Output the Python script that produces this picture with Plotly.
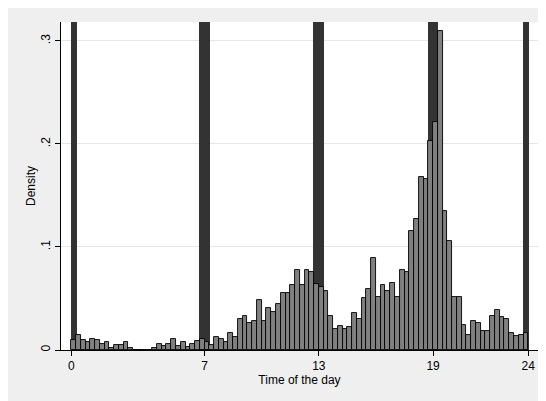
import numpy as np
import plotly.graph_objects as go

# ---- data ----
bin_width = 0.25
bin_start = 0.0
density = [
    0.0094, 0.0148, 0.0095, 0.0077, 0.0110, 0.0095, 0.0058, 0.0076,
    0.0018, 0.0053, 0.0053, 0.0076, 0.0020, 0.0, 0.0, 0.0,
    0.0, 0.0018, 0.0056, 0.0039, 0.0056, 0.0110, 0.0039, 0.0076,
    0.0030, 0.0057, 0.0092, 0.0110, 0.0073, 0.0052, 0.0130, 0.0110,
    0.0078, 0.0165, 0.0130, 0.0298, 0.0333, 0.0262, 0.0278, 0.0482,
    0.0278, 0.0405, 0.0369, 0.0447, 0.0553, 0.0553, 0.0628, 0.0773,
    0.0628, 0.0773, 0.0754, 0.0645, 0.0608, 0.0573, 0.0333, 0.0204,
    0.0236, 0.0201, 0.0223, 0.0356, 0.0298, 0.0502, 0.0589, 0.0890,
    0.0515, 0.0628, 0.0573, 0.0647, 0.0515, 0.0777, 0.0757, 0.1160,
    0.1275, 0.1680, 0.1660, 0.2026, 0.2210, 0.3100, 0.1350, 0.1055,
    0.0518, 0.0518, 0.0239, 0.0149, 0.0282, 0.0262, 0.0188, 0.0188,
    0.0333, 0.0388, 0.0317, 0.0298, 0.0168, 0.0133, 0.0149, 0.0168,
]
band_start = [0.0, 6.71, 12.71, 18.71, 23.71]
band_end = [0.28, 7.29, 13.29, 19.27, 24.02]
x_ticks = [0, 7, 13, 19, 24]
y_ticks = [0, 0.1, 0.2, 0.3]
y_tick_labels = ["0", ".1", ".2", ".3"]
x_title = "Time of the day"
y_title = "Density"

# ---- figure ----
x_range = [-0.54, 24.51]
y_range = [0, 0.3184]

left_edges = bin_start + bin_width * np.arange(len(density))
band_start_a = np.array(band_start)
band_end_a = np.array(band_end)

fig = go.Figure()
fig.add_trace(go.Bar(
    x=(band_start_a + band_end_a) / 2,
    y=[y_range[1]] * len(band_start),
    width=band_end_a - band_start_a,
    marker=dict(color="#333333", line=dict(width=0)),
    hoverinfo="skip",
    showlegend=False,
))
fig.add_trace(go.Bar(
    x=left_edges,
    y=density,
    width=bin_width,
    offset=0,
    marker=dict(color="#808080", line=dict(color="#000000", width=0.9)),
    showlegend=False,
))

fig.update_layout(
    width=538, height=393,
    margin=dict(l=53, r=8, t=14, b=51, pad=0),
    paper_bgcolor="#efefef",
    plot_bgcolor="#ffffff",
    barmode="overlay",
    bargap=0,
    font=dict(family="Liberation Sans, Arial, sans-serif", size=12, color="#000000"),
    xaxis=dict(
        range=x_range, tickmode="array", tickvals=x_ticks,
        ticks="outside", ticklen=5, tickcolor="#000000", tickwidth=1,
        showline=True, linecolor="#000000", linewidth=1,
        showgrid=False, zeroline=False,
        tickfont=dict(size=12),
        title=dict(text=x_title, font=dict(size=12), standoff=2),
    ),
    yaxis=dict(
        range=y_range, tickmode="array", tickvals=y_ticks, ticktext=y_tick_labels,
        tickangle=-90,
        ticks="outside", ticklen=5, tickcolor="#000000", tickwidth=1,
        showline=True, linecolor="#000000", linewidth=1,
        showgrid=True, gridcolor="#e6e6e6", gridwidth=1,
        zeroline=False,
        tickfont=dict(size=12),
        title=dict(text=y_title, font=dict(size=12), standoff=1),
    ),
)

fig.write_html("out.html")
